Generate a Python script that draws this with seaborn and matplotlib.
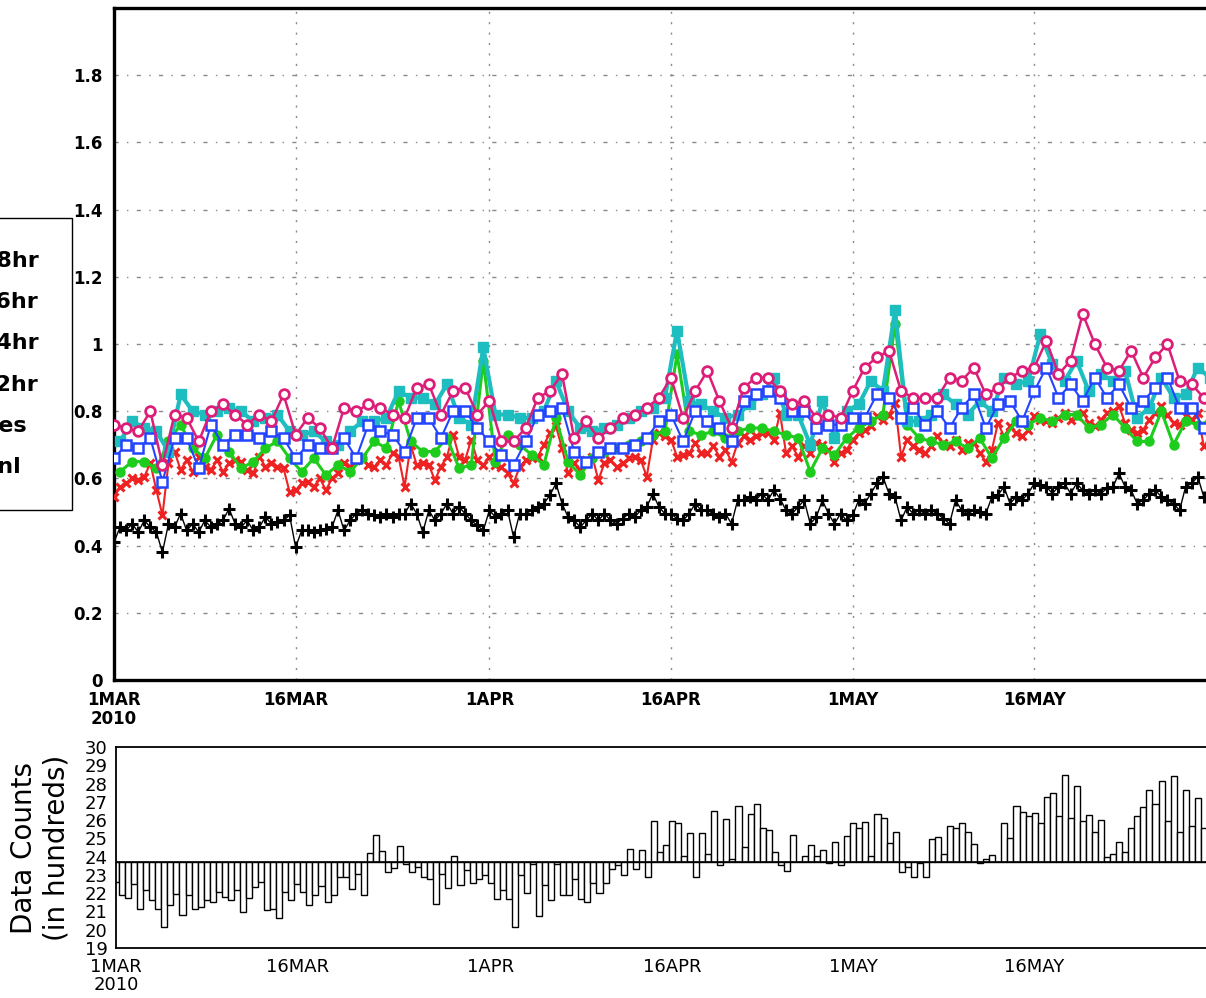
# Forecast error time series (Mar-May 2010) with data counts panel below

import pandas as pd
import matplotlib
matplotlib.use('Agg')
import matplotlib.pyplot as plt
import seaborn as sns

# 48hr forecast (00Z, daily)
f48 = [0.76, 0.75, 0.74, 0.80, 0.64, 0.79, 0.78, 0.71, 0.80, 0.82,
       0.79, 0.76, 0.79, 0.77, 0.85, 0.73, 0.78, 0.75, 0.69, 0.81,
       0.80, 0.82, 0.81, 0.79, 0.78, 0.87, 0.88, 0.79, 0.86, 0.87,
       0.79, 0.83, 0.71, 0.71, 0.75, 0.84, 0.86, 0.91, 0.72, 0.77,
       0.72, 0.75, 0.78, 0.79, 0.81, 0.84, 0.90, 0.78, 0.86, 0.92,
       0.83, 0.75, 0.87, 0.90, 0.90, 0.86, 0.82, 0.83, 0.78, 0.79,
       0.78, 0.86, 0.93, 0.96, 0.98, 0.86, 0.84, 0.84, 0.84, 0.90,
       0.89, 0.93, 0.85, 0.87, 0.90, 0.92, 0.93, 1.01, 0.91, 0.95,
       1.09, 1.00, 0.93, 0.92, 0.98, 0.90, 0.96, 1.00, 0.89, 0.88,
       0.84]

# 36hr forecast (12Z, daily)
f36 = [0.71, 0.77, 0.75, 0.74, 0.68, 0.85, 0.80, 0.79, 0.80, 0.81,
       0.80, 0.77, 0.78, 0.79, 0.74, 0.73, 0.74, 0.71, 0.70, 0.74,
       0.77, 0.77, 0.78, 0.86, 0.84, 0.84, 0.82, 0.88, 0.78, 0.76,
       0.99, 0.79, 0.79, 0.78, 0.78, 0.80, 0.89, 0.80, 0.75, 0.74,
       0.75, 0.76, 0.78, 0.80, 0.81, 0.84, 1.04, 0.83, 0.82, 0.80,
       0.78, 0.79, 0.82, 0.85, 0.90, 0.79, 0.79, 0.70, 0.83, 0.72,
       0.80, 0.82, 0.89, 0.86, 1.10, 0.77, 0.77, 0.79, 0.85, 0.82,
       0.79, 0.83, 0.80, 0.90, 0.88, 0.89, 1.03, 0.94, 0.89, 0.95,
       0.86, 0.91, 0.89, 0.92, 0.78, 0.81, 0.90, 0.84, 0.85, 0.93,
       0.90]

# 24hr forecast (00Z, daily)
f24 = [0.66, 0.70, 0.69, 0.72, 0.59, 0.72, 0.72, 0.63, 0.76, 0.70,
       0.73, 0.73, 0.72, 0.74, 0.72, 0.66, 0.70, 0.69, 0.69, 0.72,
       0.66, 0.76, 0.74, 0.73, 0.68, 0.78, 0.78, 0.72, 0.80, 0.80,
       0.75, 0.71, 0.67, 0.64, 0.71, 0.79, 0.80, 0.81, 0.68, 0.65,
       0.68, 0.69, 0.69, 0.70, 0.72, 0.77, 0.79, 0.71, 0.80, 0.77,
       0.75, 0.71, 0.83, 0.85, 0.86, 0.84, 0.80, 0.80, 0.75, 0.76,
       0.76, 0.78, 0.78, 0.85, 0.84, 0.78, 0.81, 0.76, 0.80, 0.75,
       0.81, 0.85, 0.75, 0.82, 0.83, 0.77, 0.86, 0.93, 0.84, 0.88,
       0.83, 0.90, 0.84, 0.88, 0.81, 0.83, 0.87, 0.90, 0.81, 0.81,
       0.75]

# 12hr forecast (12Z, daily)
f12 = [0.62, 0.65, 0.65, 0.63, 0.71, 0.76, 0.69, 0.66, 0.73, 0.68,
       0.63, 0.65, 0.69, 0.71, 0.66, 0.62, 0.66, 0.61, 0.64, 0.62,
       0.66, 0.71, 0.69, 0.83, 0.71, 0.68, 0.68, 0.72, 0.63, 0.64,
       0.95, 0.65, 0.73, 0.70, 0.67, 0.64, 0.78, 0.65, 0.61, 0.66,
       0.68, 0.69, 0.70, 0.71, 0.73, 0.74, 0.97, 0.74, 0.73, 0.74,
       0.72, 0.74, 0.75, 0.75, 0.74, 0.73, 0.72, 0.62, 0.69, 0.67,
       0.72, 0.75, 0.77, 0.79, 1.06, 0.76, 0.72, 0.71, 0.70, 0.71,
       0.69, 0.72, 0.66, 0.72, 0.77, 0.76, 0.78, 0.77, 0.79, 0.79,
       0.75, 0.76, 0.79, 0.75, 0.71, 0.71, 0.80, 0.70, 0.77, 0.76,
       0.77]

# guess (every 12h)
ges = [0.545, 0.575, 0.585, 0.60, 0.595, 0.605, 0.645, 0.565, 0.49, 0.645,
       0.68, 0.625, 0.655, 0.62, 0.665, 0.635, 0.625, 0.655, 0.62, 0.645,
       0.655, 0.65, 0.625, 0.615, 0.665, 0.635, 0.645, 0.635, 0.63, 0.56,
       0.565, 0.585, 0.59, 0.575, 0.60, 0.565, 0.60, 0.615, 0.645, 0.635,
       0.655, 0.665, 0.64, 0.635, 0.655, 0.64, 0.675, 0.665, 0.575, 0.70,
       0.64, 0.645, 0.64, 0.595, 0.635, 0.665, 0.73, 0.665, 0.655, 0.715,
       0.655, 0.64, 0.665, 0.64, 0.635, 0.615, 0.585, 0.635, 0.655, 0.66,
       0.665, 0.70, 0.735, 0.755, 0.69, 0.615, 0.645, 0.625, 0.655, 0.665,
       0.595, 0.645, 0.655, 0.635, 0.645, 0.66, 0.665, 0.655, 0.605, 0.715,
       0.735, 0.725, 0.715, 0.665, 0.67, 0.675, 0.705, 0.675, 0.675, 0.695,
       0.665, 0.685, 0.65, 0.705, 0.725, 0.715, 0.725, 0.735, 0.735, 0.715,
       0.795, 0.675, 0.695, 0.665, 0.695, 0.675, 0.705, 0.70, 0.685, 0.65,
       0.675, 0.685, 0.715, 0.735, 0.745, 0.755, 0.785, 0.775, 0.79, 0.825,
       0.665, 0.715, 0.695, 0.685, 0.675, 0.695, 0.725, 0.705, 0.695, 0.715,
       0.685, 0.705, 0.705, 0.675, 0.65, 0.685, 0.765, 0.725, 0.755, 0.735,
       0.725, 0.745, 0.785, 0.775, 0.77, 0.765, 0.78, 0.795, 0.775, 0.785,
       0.795, 0.765, 0.755, 0.775, 0.795, 0.80, 0.815, 0.765, 0.745, 0.735,
       0.745, 0.775, 0.795, 0.815, 0.79, 0.765, 0.76, 0.785, 0.775, 0.795,
       0.695, 0.72]

# analysis (every 12h)
anl = [0.41, 0.455, 0.445, 0.465, 0.44, 0.475, 0.455, 0.44, 0.38, 0.465,
       0.455, 0.495, 0.445, 0.465, 0.44, 0.475, 0.455, 0.465, 0.475, 0.51,
       0.465, 0.455, 0.475, 0.445, 0.455, 0.485, 0.465, 0.47, 0.475, 0.49,
       0.395, 0.445, 0.445, 0.44, 0.445, 0.45, 0.455, 0.505, 0.445, 0.475,
       0.495, 0.505, 0.495, 0.49, 0.485, 0.495, 0.485, 0.495, 0.495, 0.525,
       0.495, 0.44, 0.505, 0.475, 0.495, 0.525, 0.495, 0.515, 0.495, 0.475,
       0.46, 0.445, 0.505, 0.485, 0.495, 0.505, 0.425, 0.495, 0.495, 0.505,
       0.515, 0.525, 0.55, 0.585, 0.525, 0.485, 0.475, 0.455, 0.475, 0.495,
       0.475, 0.495, 0.475, 0.465, 0.48, 0.495, 0.485, 0.505, 0.515, 0.555,
       0.515, 0.495, 0.495, 0.48, 0.475, 0.495, 0.525, 0.505, 0.505, 0.495,
       0.485, 0.495, 0.465, 0.535, 0.535, 0.545, 0.535, 0.555, 0.535, 0.565,
       0.54, 0.505, 0.495, 0.515, 0.535, 0.465, 0.485, 0.535, 0.495, 0.465,
       0.495, 0.475, 0.49, 0.535, 0.525, 0.555, 0.585, 0.605, 0.555, 0.545,
       0.475, 0.515, 0.495, 0.505, 0.495, 0.505, 0.495, 0.48, 0.465, 0.535,
       0.505, 0.495, 0.505, 0.50, 0.495, 0.545, 0.55, 0.575, 0.525, 0.545,
       0.535, 0.555, 0.585, 0.58, 0.575, 0.555, 0.575, 0.585, 0.555, 0.585,
       0.565, 0.555, 0.565, 0.555, 0.57, 0.575, 0.615, 0.575, 0.565, 0.525,
       0.535, 0.555, 0.565, 0.545, 0.535, 0.525, 0.505, 0.575, 0.585, 0.605,
       0.545, 0.55]

# data counts in hundreds (every 12h), bars hang from the base value
counts = [22.60, 21.92, 21.74, 22.51, 21.16, 22.15, 21.61, 21.16, 20.17, 21.38,
          21.97, 20.80, 21.92, 21.16, 21.25, 21.61, 21.52, 22.06, 21.79, 21.61,
          22.15, 20.98, 21.74, 22.33, 22.60, 21.07, 21.16, 20.62, 22.06, 21.61,
          22.51, 22.06, 21.34, 21.92, 22.40, 21.52, 21.88, 22.87, 22.91, 22.24,
          23.05, 21.92, 24.22, 25.16, 24.32, 23.14, 23.36, 24.59,
          23.61, 23.15, 23.43, 22.88, 22.79, 21.43, 23.06, 22.28, 24.03, 22.43,
          23.25, 22.57, 22.79, 22.97, 22.57, 21.70, 22.15, 21.70, 20.15, 22.97,
          22.03, 23.61, 20.75, 22.43, 21.61, 23.61, 21.92, 21.92, 22.79, 21.70,
          21.52, 22.57, 22.03, 22.57, 23.34, 23.55, 22.97, 24.43, 23.34, 24.34,
          22.88, 25.97, 24.25, 24.65, 25.97, 25.85, 24.03, 25.28, 22.88, 25.28,
          24.15, 26.52, 23.52, 26.06, 23.88, 26.79, 24.52, 26.34, 26.88, 25.55,
          25.48, 24.28, 23.52, 23.19, 25.19, 23.70,
          24.03, 24.65, 24.06, 24.39, 23.66, 24.79, 23.52, 25.15, 25.83, 25.55,
          25.92, 24.03, 26.34, 26.12, 24.75, 25.34, 23.15, 23.43, 22.88, 23.66,
          22.88, 24.97, 25.06, 24.12, 25.66, 25.55, 25.85, 25.34, 24.70, 23.66,
          23.88, 24.10, 23.70, 25.85, 25.03, 26.79, 26.46, 26.25, 26.39, 25.83,
          27.25, 27.48, 26.21, 28.46, 26.12, 27.85, 25.94, 26.30, 25.34, 26.03,
          23.97, 24.12, 24.79, 24.28, 25.55, 26.21, 26.70, 27.66, 26.88, 28.15,
          25.94, 28.43, 25.34, 27.66, 25.66, 27.19, 25.55, 25.60]
count_base = 23.7

series_names = ['48hr', '36hr', '24hr', '12hr', 'Ges', 'Anl']
tick_dates = ['2010-03-01', '2010-03-16', '2010-04-01', '2010-04-16',
              '2010-05-01', '2010-05-16']
tick_labels = ['1MAR\n2010', '16MAR', '1APR', '16APR', '1MAY', '16MAY']
y_ticks = [0, 0.2, 0.4, 0.6, 0.8, 1.0, 1.2, 1.4, 1.6, 1.8]
y_labels = ['0', '0.2', '0.4', '0.6', '0.8', '1', '1.2', '1.4', '1.6', '1.8']

# time axes
t00 = pd.date_range('2010-03-01 00:00', periods=len(f48), freq='D')
t12 = pd.date_range('2010-03-01 12:00', periods=len(f36), freq='D')
t_half = pd.date_range('2010-03-01 00:00', periods=len(ges), freq='12h')
t_cnt = pd.date_range('2010-03-01 00:00', periods=len(counts), freq='12h')
ticks = pd.to_datetime(tick_dates)
x0, x1 = pd.Timestamp('2010-03-01'), pd.Timestamp('2010-06-01')

sns.set_style('white')
plt.rcParams['font.family'] = ['DejaVu Sans']
plt.rcParams['text.color'] = 'black'
plt.rcParams['axes.labelcolor'] = 'black'

fig = plt.figure(figsize=(12.06, 9.98), dpi=100)
W, H = 1206, 998

# ---- upper panel ----
ax = fig.add_axes([114 / W, 1 - 680 / H, 1114 / W, 672 / H])

styles = [
    (t_half, anl, dict(color='black', marker='+', markersize=9, markeredgewidth=2.2,
                       markeredgecolor='black', linewidth=1.0, zorder=3)),
    (t_half, ges, dict(color='#EE2222', marker='x', markersize=6, markeredgewidth=2.2,
                       markeredgecolor='#EE2222', linewidth=1.5, zorder=4)),
    (t12, f12, dict(color='#1ECC1E', marker='o', markersize=6.5, markeredgewidth=1,
                    markeredgecolor='#1ECC1E', markerfacecolor='#1ECC1E', linewidth=2.2, zorder=5)),
    (t12, f36, dict(color='#1EBEC0', marker='s', markersize=7, markeredgewidth=1,
                    markeredgecolor='#1EBEC0', markerfacecolor='#1EBEC0', linewidth=3.0, zorder=6)),
    (t00, f24, dict(color='#2244FF', marker='s', markersize=7, markeredgewidth=1.8,
                    markeredgecolor='#2244FF', markerfacecolor='white', linewidth=1.5, zorder=7)),
    (t00, f48, dict(color='#DC1E78', marker='o', markersize=7, markeredgewidth=2.0,
                    markeredgecolor='#DC1E78', markerfacecolor='white', linewidth=1.8, zorder=8)),
]
labels_draw = ['Anl', 'Ges', '12hr', '36hr', '24hr', '48hr']
for (tt, vals, kw), lab in zip(styles, labels_draw):
    sns.lineplot(x=tt, y=vals, ax=ax, label=lab, **kw)

if ax.get_legend() is not None:
    ax.get_legend().remove()

ax.set_xlim(x0, x1)
ax.set_ylim(0, 2.0)
ax.set_xticks(ticks)
ax.set_xticklabels(tick_labels)
ax.set_yticks(y_ticks)
ax.set_yticklabels(y_labels)
ax.set_xlabel('')
ax.set_ylabel('')
ax.set_axisbelow(True)
ax.yaxis.grid(True, color='#8a8a8a', linestyle=(0, (3, 6, 1, 6)), linewidth=1)
ax.xaxis.grid(True, color='#8a8a8a', linestyle=(0, (1.5, 6)), linewidth=1)
for side in ['left', 'top', 'bottom']:
    ax.spines[side].set_linewidth(2.4)
    ax.spines[side].set_color('black')
ax.spines['right'].set_visible(False)
ax.tick_params(axis='both', direction='out', length=6, width=2, colors='black',
               labelsize=12, pad=2)
for lbl in ax.get_xticklabels() + ax.get_yticklabels():
    lbl.set_fontweight('bold')
    lbl.set_linespacing(1.05)

# legend (left part falls outside the picture)
handles, labels = ax.get_legend_handles_labels()
order = [labels.index(n) for n in series_names]
leg = fig.legend([handles[i] for i in order], series_names, loc='center right',
                 bbox_to_anchor=(72 / W, 1 - 364 / H), borderaxespad=0,
                 frameon=True, fancybox=False, edgecolor='black', framealpha=1,
                 borderpad=1.5, labelspacing=0.95, handlelength=2.5,
                 prop={'family': 'DejaVu Sans', 'size': 16, 'weight': 'bold'})
for txt in leg.get_texts():
    txt.set_color('black')

# ---- lower panel: data counts ----
ax2 = fig.add_axes([116 / W, 1 - 948 / H, 1112 / W, 201 / H])
heights = [c - count_base for c in counts]
ax2.bar(t_cnt, heights, width=0.5, bottom=count_base, color='white',
        edgecolor='black', linewidth=1.0, align='center')
ax2.axhline(count_base, color='black', linewidth=1.2)
ax2.set_xlim(x0, x1)
ax2.set_ylim(19, 30)
ax2.set_yticks(range(19, 31))
ax2.set_xticks(ticks)
ax2.set_xticklabels(tick_labels)
ax2.tick_params(axis='both', direction='out', length=5, width=1.2, colors='black',
                labelsize=13, pad=2)
ax2.tick_params(axis='y', labelsize=13, pad=1)
for lbl in ax2.get_xticklabels():
    lbl.set_linespacing(1.05)
for side in ['left', 'top', 'bottom']:
    ax2.spines[side].set_linewidth(1.3)
    ax2.spines[side].set_color('black')
ax2.spines['right'].set_visible(False)
ax2.set_ylabel('Data Counts\n(in hundreds)', fontsize=20, family='DejaVu Sans',
               color='black', linespacing=1.2)
ax2.yaxis.set_label_coords(-0.041, 0.5)

fig.savefig('out.png', dpi=100)
